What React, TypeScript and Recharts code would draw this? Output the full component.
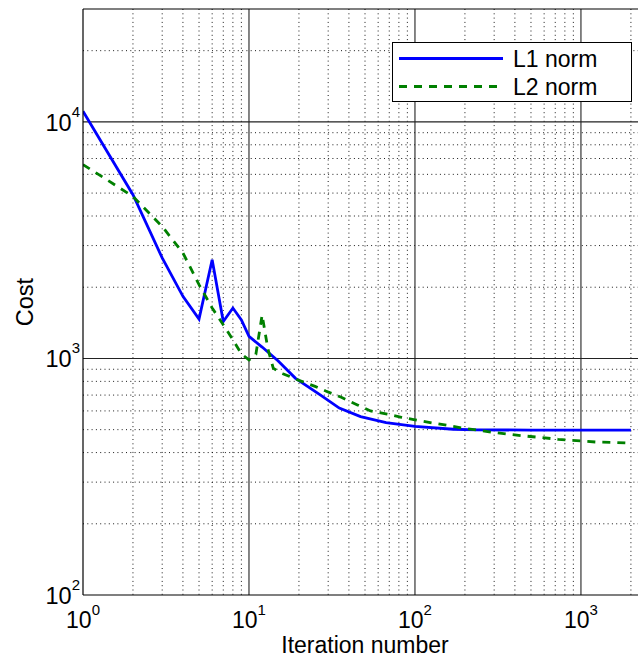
import React from 'react';
import { LineChart, Line, XAxis, YAxis, CartesianGrid, ReferenceLine, Legend, Label } from 'recharts';

// L1 norm series
const l1Iter = [1, 2, 3, 4, 5, 6, 7, 8, 9, 10, 12, 15, 19, 27, 35, 47, 67, 100, 170, 235, 500, 1000, 2000];
const l1Cost = [11100, 4920, 2660, 1830, 1466, 2612, 1432, 1633, 1455, 1239, 1117, 975, 826, 700, 617, 568, 535, 516, 502, 499, 498, 498, 498];

// L2 norm series
const l2Iter = [1, 2, 3, 4, 5, 6, 7, 8, 9, 10, 11, 12, 13, 14, 15, 16, 20, 25, 29, 36, 45, 54, 68, 83, 100, 130, 160, 195, 245, 300, 370, 460, 580, 730, 940, 1240, 1640, 2000];
const l2Cost = [6600, 4840, 3612, 2793, 2050, 1634, 1388, 1200, 1045, 986, 1040, 1527, 1097, 910, 881, 862, 808, 762, 728, 685, 636, 600, 581, 564, 550, 532, 520, 507, 496, 486, 478, 470, 463, 455, 449, 443, 441, 438];

const seriesNames = ['L1 norm', 'L2 norm'];
const xTicks = [1, 10, 100, 1000];
const yTicks = [100, 1000, 10000];
const xExp = ['0', '1', '2', '3'];
const yExp = ['2', '3', '4'];
const xMajor = [10, 100, 1000];
const yMajor = [1000, 10000];
const xMinor = [2, 3, 4, 5, 6, 7, 8, 9, 20, 30, 40, 50, 60, 70, 80, 90, 200, 300, 400, 500, 600, 700, 800, 900, 2000];
const yMinor = [200, 300, 400, 500, 600, 700, 800, 900, 2000, 3000, 4000, 5000, 6000, 7000, 8000, 9000, 20000];
const xDomain = [1, 2500];
const yDomain = [100, 30000];

const l1Data = l1Iter.map((x, i) => ({ x, y: l1Cost[i] }));
const l2Data = l2Iter.map((x, i) => ({ x, y: l2Cost[i] }));

const FONT = "'Liberation Sans', Arial, Helvetica, sans-serif";

const XTick = (props: any) => {
  const { x, y, payload } = props;
  const idx = xTicks.indexOf(payload.value);
  return (
    <text x={x} y={y + 33} textAnchor="middle" fill="#000" fontSize={23} fontFamily={FONT}>
      <tspan>10</tspan>
      <tspan dy={-13} fontSize={15}>{xExp[idx]}</tspan>
    </text>
  );
};

const YTick = (props: any) => {
  const { x, y, payload } = props;
  const idx = yTicks.indexOf(payload.value);
  return (
    <text x={x - 3} y={y + 9} textAnchor="end" fill="#000" fontSize={23.5} fontFamily={FONT}>
      <tspan>10</tspan>
      <tspan dy={-14} fontSize={15}>{yExp[idx]}</tspan>
    </text>
  );
};

const LegendBox = (props: any) => {
  const payload = props.payload || [];
  const rows = [
    { color: '#0000ff', dash: undefined as any, name: seriesNames[0] },
    { color: '#008000', dash: '8 7', name: seriesNames[1] },
  ];
  return (
    <svg width={241} height={61} style={{ display: 'block' }}>
      <rect x={0.5} y={0.5} width={239} height={59} fill="#fff" stroke="#000" strokeWidth={1} />
      {rows.map((r, i) => (
        <g key={i}>
          <line x1={7} x2={111} y1={16.5 + i * 28} y2={16.5 + i * 28} stroke={r.color} strokeWidth={2.8} strokeDasharray={r.dash} />
          <text x={121} y={24.5 + i * 28} fontSize={23} fill="#000" fontFamily={FONT}>
            {payload[i] ? payload[i].value : r.name}
          </text>
        </g>
      ))}
    </svg>
  );
};

export default function App() {
  return (
    <div style={{ position: 'absolute', left: 0, top: 0, width: 638, height: 660, overflow: 'hidden', background: '#fff', fontFamily: FONT }}>
      <LineChart width={660} height={660} margin={{ top: 9, right: 13, bottom: 0, left: 0 }}>
        <CartesianGrid
          verticalValues={xMinor}
          horizontalValues={yMinor}
          stroke="#1a1a1a"
          strokeDasharray="1 3.3"
          strokeWidth={1}
        />
        <CartesianGrid
          verticalValues={xMajor}
          horizontalValues={yMajor}
          stroke="#222"
          strokeWidth={1.1}
        />
        <XAxis
          dataKey="x"
          type="number"
          scale="log"
          domain={xDomain}
          allowDataOverflow
          ticks={xTicks}
          tick={<XTick />}
          tickLine={false}
          tickSize={0}
          tickMargin={0}
          height={65}
          axisLine={{ stroke: '#000', strokeWidth: 1.2 }}
          interval={0}
        >
          <Label value="Iteration number" position="insideBottom" offset={7} fill="#000" fontSize={23} fontFamily={FONT} />
        </XAxis>
        <YAxis
          dataKey="y"
          type="number"
          scale="log"
          domain={yDomain}
          allowDataOverflow
          ticks={yTicks}
          tick={<YTick />}
          tickLine={false}
          tickSize={0}
          tickMargin={0}
          width={83}
          axisLine={{ stroke: '#000', strokeWidth: 1.2 }}
          interval={0}
        >
          <Label value="Cost" angle={-90} position="insideLeft" offset={25} fill="#000" fontSize={23.5} fontFamily={FONT} style={{ textAnchor: 'middle' }} />
        </YAxis>
        <ReferenceLine y={30000} stroke="#000" strokeWidth={1.2} ifOverflow="visible" />
        <Line data={l1Data} dataKey="y" name={seriesNames[0]} stroke="#0000ff" strokeWidth={2.8} dot={false} isAnimationActive={false} type="linear" />
        <Line data={l2Data} dataKey="y" name={seriesNames[1]} stroke="#008000" strokeWidth={2.8} strokeDasharray="8 7" dot={false} isAnimationActive={false} type="linear" />
        <Legend
          layout="vertical"
          align="center"
          verticalAlign="middle"
          content={<LegendBox />}
          wrapperStyle={{ position: 'absolute', left: 392, top: 42, width: 241, height: 61 }}
        />
      </LineChart>
    </div>
  );
}
